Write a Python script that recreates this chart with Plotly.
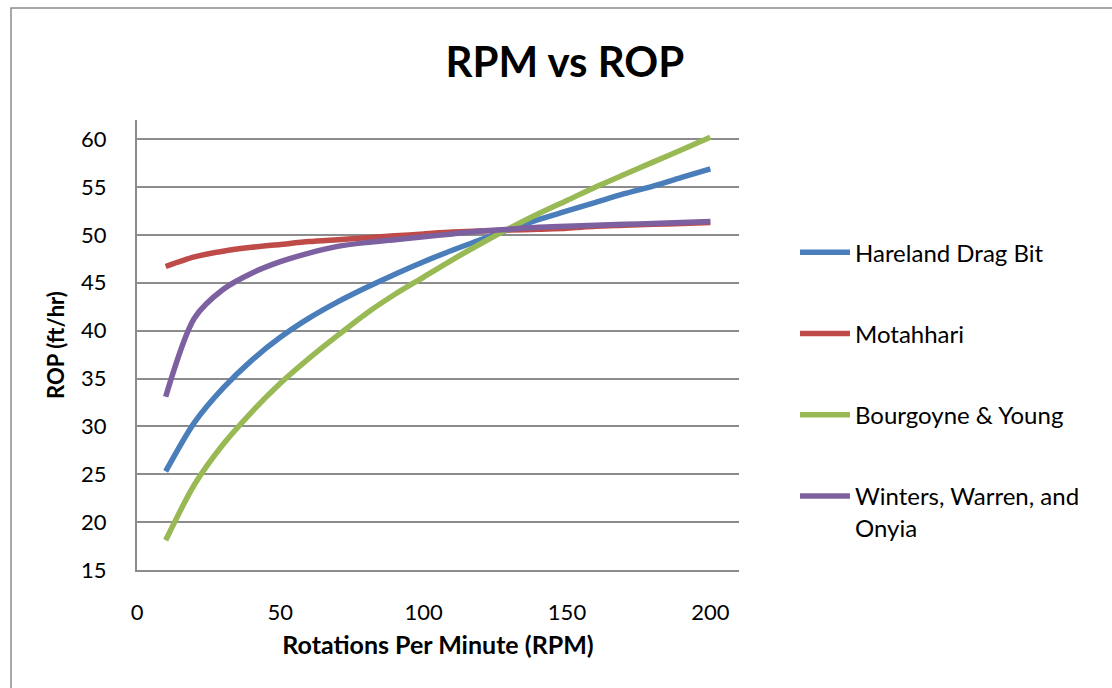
import plotly.graph_objects as go

# Rotary speed (RPM) at which each model was evaluated
rpm = [10, 20, 30, 40, 50, 60, 70, 80, 90, 100,
       110, 120, 130, 140, 150, 160, 170, 180, 190, 200]

# Rate of penetration (ft/hr) predicted by each model
hareland = [25.3, 30.4, 34.0, 36.9, 39.3, 41.3, 43.0, 44.5, 45.9, 47.2,
            48.4, 49.5, 50.6, 51.6, 52.5, 53.4, 54.3, 55.1, 56.0, 56.9]
motahhari = [46.7, 47.7, 48.3, 48.7, 49.0, 49.3, 49.5, 49.7, 49.9, 50.1,
             50.3, 50.4, 50.5, 50.6, 50.7, 50.9, 51.0, 51.1, 51.2, 51.3]
bourgoyne = [18.1, 23.9, 28.1, 31.5, 34.5, 37.1, 39.5, 41.8, 43.8, 45.6,
             47.4, 49.1, 50.7, 52.2, 53.6, 55.0, 56.3, 57.6, 58.9, 60.2]
winters = [33.1, 41.3, 44.3, 46.0, 47.2, 48.1, 48.8, 49.2, 49.5, 49.8,
           50.1, 50.4, 50.6, 50.8, 50.9, 51.0, 51.1, 51.2, 51.3, 51.4]

series_names = ["Hareland Drag Bit", "Motahhari", "Bourgoyne & Young",
                "Winters, Warren, and<br>Onyia"]
series_values = [hareland, motahhari, bourgoyne, winters]
series_colors = ["#4A7EBB", "#BE4B48", "#98B954", "#7D60A0"]

x_ticks = [0, 50, 100, 150, 200]
y_ticks = [15, 20, 25, 30, 35, 40, 45, 50, 55, 60]

FONT = "Lato, Carlito, 'Open Sans', sans-serif"
GRID = "#8C8C8C"

fig = go.Figure()
for i, (name, vals, col) in enumerate(zip(series_names, series_values, series_colors)):
    fig.add_trace(go.Scatter(
        x=rpm, y=vals, name=name, mode="lines",
        line=dict(color=col, width=5.5, shape="spline", smoothing=0.8),
        legendgroup=f"g{i}",
    ))

fig.update_layout(
    width=1112, height=688,
    margin=dict(l=137, r=373, t=120, b=118),
    paper_bgcolor="white", plot_bgcolor="white",
    font=dict(family=FONT, color="black", size=20),
    title=dict(text="<b>RPM vs ROP</b>", x=0.508, xanchor="center",
               y=0.91, yanchor="middle", font=dict(size=42, family=FONT)),
    xaxis=dict(
        range=[0, 210], tickvals=x_ticks, showgrid=False, zeroline=False,
        showline=True, linecolor=GRID, linewidth=2,
        ticks="", ticklabelstandoff=22,
        tickfont=dict(size=22),
        title=dict(text="<b>Rotations Per Minute (RPM)</b>", font=dict(size=25), standoff=12),
    ),
    yaxis=dict(
        range=[15, 62], tickvals=y_ticks, showgrid=True, gridcolor=GRID, gridwidth=2,
        zeroline=False, showline=True, linecolor=GRID, linewidth=2,
        ticks="", ticklabelstandoff=24,
        tickfont=dict(size=22),
        title=dict(text="<b>ROP (ft/hr)</b>", font=dict(size=22), standoff=10),
    ),
    legend=dict(
        x=1.093, xanchor="left", y=0.755, yanchor="top",
        font=dict(size=24, family=FONT), itemwidth=50, valign="top",
        tracegroupgap=47, bgcolor="rgba(0,0,0,0)",
    ),
    showlegend=True,
)

# Outer chart frame
fig.add_shape(type="rect", xref="paper", yref="paper",
              x0=(11 - 137) / 602, x1=(1130 - 137) / 602,
              y0=(570 - 720) / 450, y1=(570 - 8) / 450,
              line=dict(color="#8C8C8C", width=1.5), fillcolor="rgba(0,0,0,0)",
              layer="below")

fig.write_html("out.html")
